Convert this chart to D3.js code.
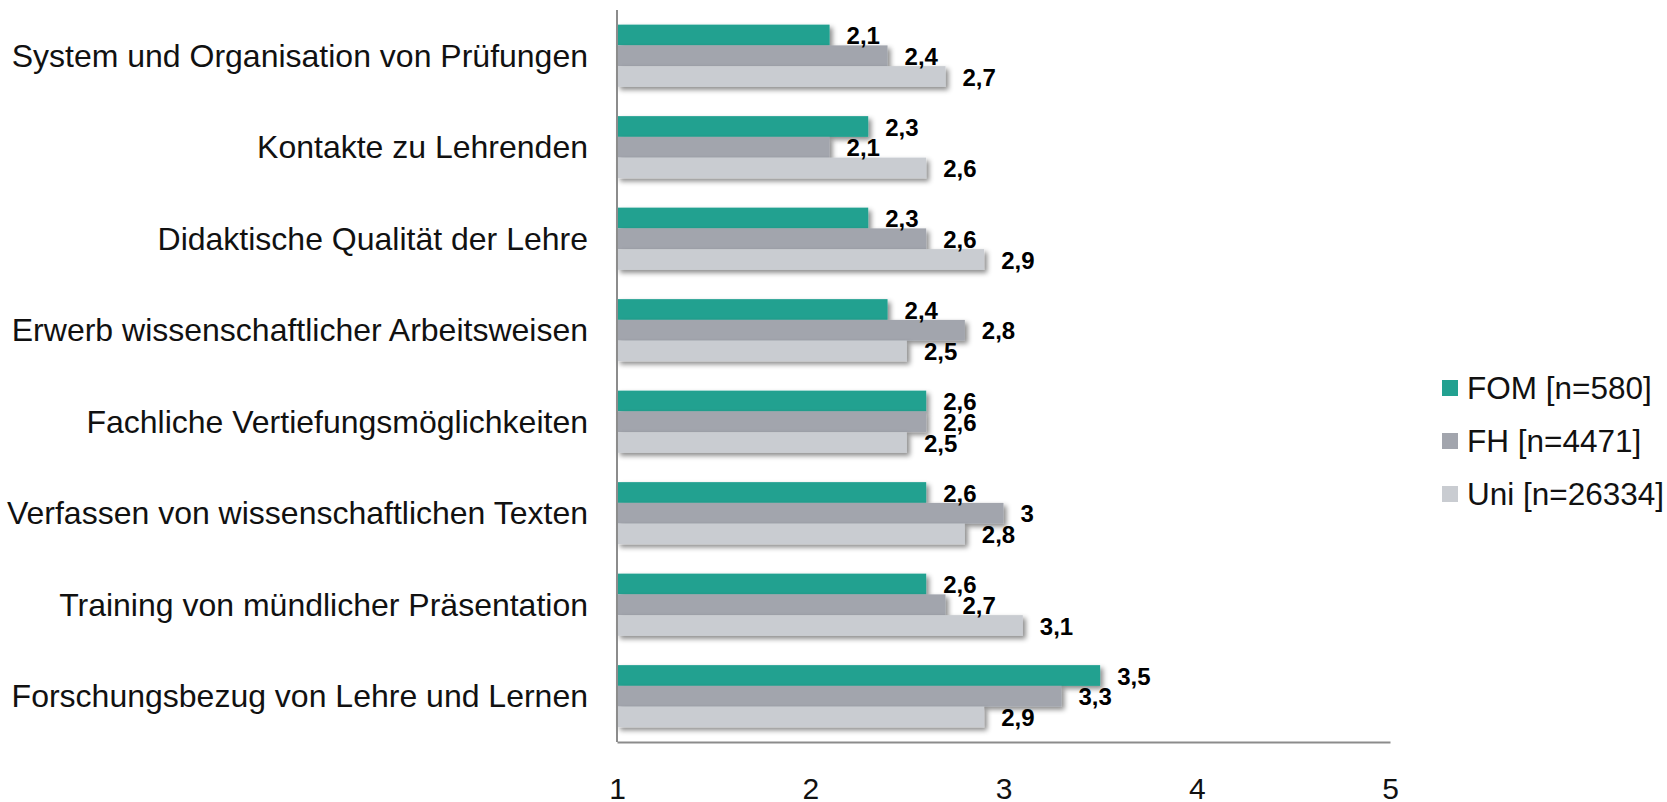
<!DOCTYPE html>
<html>
<head>
<meta charset="utf-8">
<script src="https://cdn.jsdelivr.net/npm/d3@7"></script>
<style>
  body { margin: 0; background: #fff; }
  svg { display: block; font-family: "Liberation Sans", Arial, sans-serif; }
</style>
</head>
<body>
<div id="chart"></div>
<script>
let width = 1667;
let height = 802;

// data
const categories = [
    "System und Organisation von Prüfungen",
    "Kontakte zu Lehrenden",
    "Didaktische Qualität der Lehre",
    "Erwerb wissenschaftlicher Arbeitsweisen",
    "Fachliche Vertiefungsmöglichkeiten",
    "Verfassen von wissenschaftlichen Texten",
    "Training von mündlicher Präsentation",
    "Forschungsbezug von Lehre und Lernen"
];
const seriesNames = ["FOM [n=580]", "FH [n=4471]", "Uni [n=26334]"];
const fomValues = [2.1, 2.3, 2.3, 2.4, 2.6, 2.6, 2.6, 3.5];
const fhValues  = [2.4, 2.1, 2.6, 2.8, 2.6, 3.0, 2.7, 3.3];
const uniValues = [2.7, 2.6, 2.9, 2.5, 2.5, 2.8, 3.1, 2.9];
const tickValues = [1, 2, 3, 4, 5];

const colors = ["#22a190", "#a2a5ad", "#c9ccd1"];

const rows = categories.map((c, i) => ({
    category: c,
    values: [fomValues[i], fhValues[i], uniValues[i]]
}));

const svg = d3.select("#chart")
    .append("svg")
    .attr("width", width)
    .attr("height", height);

// drop shadow for bars
const defs = svg.append("defs");
const shadow = defs.append("filter")
    .attr("id", "shadow")
    .attr("x", "-10%").attr("y", "-30%")
    .attr("width", "130%").attr("height", "190%");
shadow.append("feDropShadow")
    .attr("dx", 3).attr("dy", 3)
    .attr("stdDeviation", 2.5)
    .attr("flood-color", "#000")
    .attr("flood-opacity", 0.45);

const x = d3.scaleLinear()
    .domain([1, 5])
    .range([617, 1390]);

const y = d3.scaleBand()
    .domain(categories)
    .range([10, 742])
    .paddingInner(0.32)
    .paddingOuter(0.16);

const ySub = d3.scaleBand()
    .domain(d3.range(seriesNames.length))
    .range([0, y.bandwidth()]);

const fmt = v => String(v).replace(".", ",");

// bars
const groups = svg.append("g")
    .selectAll("g")
    .data(rows)
    .join("g")
    .attr("transform", d => `translate(0,${y(d.category)})`);

groups.selectAll("rect")
    .data(d => d.values)
    .join("rect")
    .attr("x", x(1))
    .attr("y", (d, i) => ySub(i))
    .attr("width", d => x(d) - x(1))
    .attr("height", ySub.bandwidth())
    .attr("fill", (d, i) => colors[i])
    .attr("filter", "url(#shadow)");

// value labels on top of all bars
const labels = svg.append("g")
    .selectAll("g")
    .data(rows)
    .join("g")
    .attr("transform", d => `translate(0,${y(d.category)})`);

labels.selectAll("text")
    .data(d => d.values)
    .join("text")
    .attr("x", d => x(d) + 17)
    .attr("y", (d, i) => ySub(i) + ySub.bandwidth() / 2)
    .attr("dy", "0.38em")
    .style("font-size", "24px")
    .style("font-weight", "bold")
    .attr("fill", "#000")
    .text(d => fmt(d));

// category labels
svg.append("g")
    .selectAll("text")
    .data(categories)
    .join("text")
    .attr("x", 588)
    .attr("y", d => y(d) + y.bandwidth() / 2)
    .attr("dy", "0.35em")
    .attr("text-anchor", "end")
    .style("font-size", "32px")
    .attr("fill", "#111")
    .text(d => d);

// axis lines
svg.append("line")
    .attr("x1", x(1)).attr("x2", x(1))
    .attr("y1", 10).attr("y2", 742)
    .attr("stroke", "#8c8c8c")
    .attr("stroke-width", 2);

const xAxis = svg.append("g")
    .attr("transform", "translate(0,742)")
    .call(d3.axisBottom(x).tickValues(tickValues).tickSize(0).tickPadding(36).tickFormat(d3.format("d")));
xAxis.select(".domain")
    .attr("stroke", "#8c8c8c")
    .attr("stroke-width", 2);
xAxis.selectAll("text")
    .style("font-size", "30px")
    .style("font-family", "\"Liberation Sans\", Arial, sans-serif")
    .attr("fill", "#111");

// legend
const legend = svg.append("g")
    .selectAll("g")
    .data(seriesNames)
    .join("g")
    .attr("transform", (d, i) => `translate(1442,${388 + i * 53})`);

legend.append("rect")
    .attr("x", 0)
    .attr("y", -8)
    .attr("width", 16)
    .attr("height", 16)
    .attr("fill", (d, i) => colors[i]);

legend.append("text")
    .attr("x", 25)
    .attr("y", 0)
    .attr("dy", "0.36em")
    .style("font-size", "31.5px")
    .attr("fill", "#111")
    .text(d => d);
</script>
</body>
</html>
